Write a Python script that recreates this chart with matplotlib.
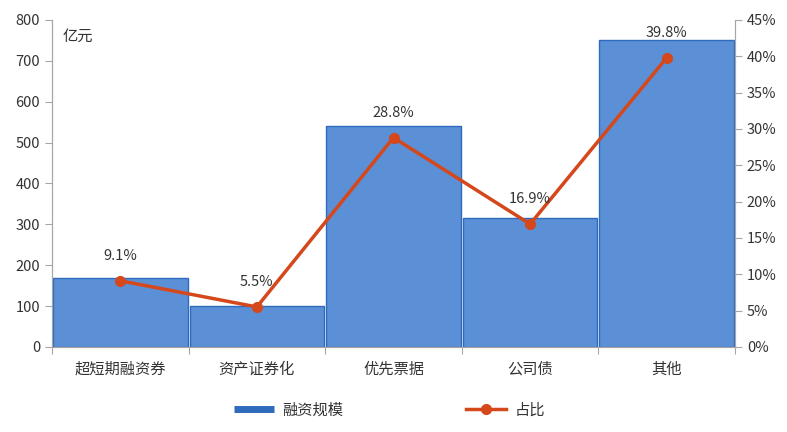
import numpy as np
import matplotlib
matplotlib.use('Agg')
import matplotlib.pyplot as plt
from matplotlib.ticker import FuncFormatter
from matplotlib.lines import Line2D

plt.rcParams['font.family'] = ['Noto Sans CJK SC', 'DejaVu Sans']
plt.rcParams['axes.unicode_minus'] = False

categories = ['超短期融资券', '资产证券化', '优先票据', '公司债', '其他']
scale = [168, 100, 540, 315, 750]          # 亿元
share = [9.1, 5.5, 28.8, 16.9, 39.8]       # %

bar_color = '#5b8fd6'
bar_edge = '#2f6bbd'
line_color = '#d5481c'
axis_color = '#a6a6a6'
text_color = '#333333'

fig = plt.figure(figsize=(7.87, 4.32), dpi=100)
ax = fig.add_axes([0.066, 0.197, 0.868, 0.757])
ax2 = ax.twinx()

x = np.arange(len(categories))
ax.bar(x, scale, width=0.985, color=bar_color, edgecolor=bar_edge, linewidth=1.0, zorder=2)
ax.set_xlim(-0.5, len(categories) - 0.5)
ax.set_ylim(0, 800)
ax.set_yticks(range(0, 801, 100))

ax2.plot(x, share, color=line_color, linewidth=2.5, marker='o', markersize=7,
         markerfacecolor=line_color, markeredgecolor=line_color, zorder=3)
ax2.set_ylim(0, 45)
ax2.set_yticks(range(0, 46, 5))
ax2.yaxis.set_major_formatter(FuncFormatter(lambda v, p: '%d%%' % v))

for xi, s in zip(x, share):
    ax2.annotate('%.1f%%' % s, (xi, s), xytext=(0, 13), textcoords='offset points',
                 ha='center', va='bottom', fontsize=10.5, color=text_color)

ax.set_xticks(np.arange(-0.5, len(categories), 1.0))
ax.set_xticklabels([])
ax.set_xticks(x, minor=True)
ax.set_xticklabels(categories, minor=True, fontsize=11, color=text_color)
ax.tick_params(axis='x', which='minor', length=0, pad=10)
ax.tick_params(axis='x', which='major', length=5, color=axis_color)

for a in (ax, ax2):
    a.spines['top'].set_visible(False)
    for s in ('left', 'right', 'bottom'):
        a.spines[s].set_color(axis_color)
    a.tick_params(axis='y', length=5, color=axis_color, labelsize=10.5, labelcolor=text_color)

ax.text(0.015, 0.975, '亿元', transform=ax.transAxes, fontsize=11, color=text_color,
        ha='left', va='top')

handles = [Line2D([0], [0], color=bar_edge, linewidth=5, solid_capstyle='butt'),
           Line2D([0], [0], color=line_color, linewidth=2.5, marker='o', markersize=7)]
fig.legend(handles, ['融资规模', '占比'], loc='lower center', bbox_to_anchor=(0.495, 0.0),
           ncol=2, frameon=False, fontsize=11, columnspacing=8, handlelength=2.6,
           handletextpad=0.6, labelcolor=text_color)

fig.savefig('out.png', dpi=100)
